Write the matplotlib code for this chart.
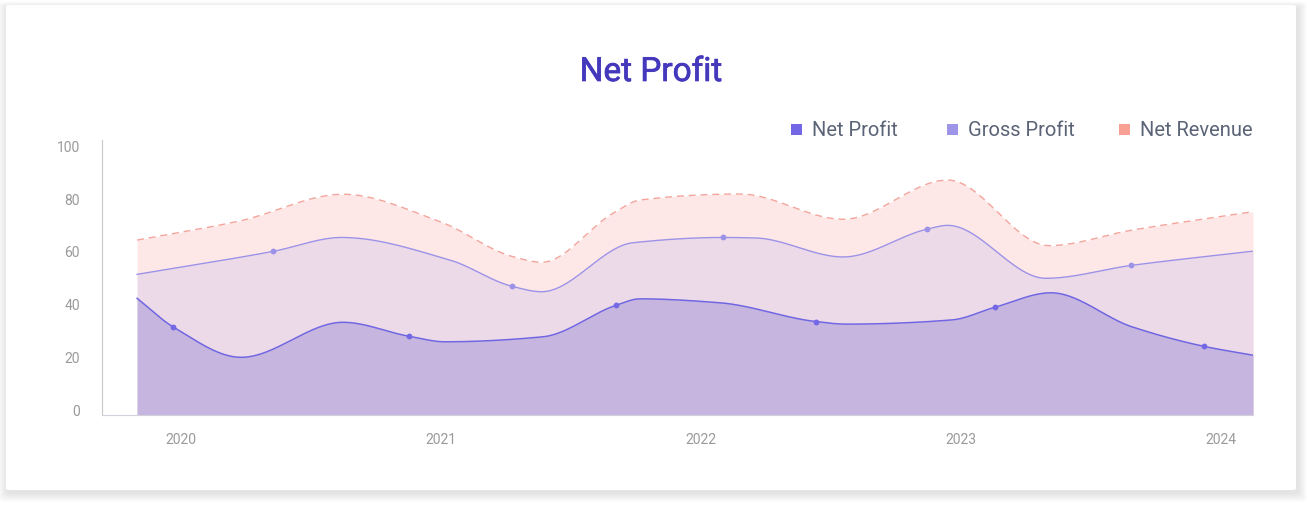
import numpy as np
import matplotlib
matplotlib.use("Agg")
import matplotlib.pyplot as plt
import matplotlib.transforms as mtransforms
import matplotlib.patheffects as pe
from matplotlib.patches import FancyBboxPatch, Rectangle

plt.rcParams["font.family"] = ["Roboto", "DejaVu Sans"]

# knots (decimal year, value)
net_x = [2019.831, 2019.969, 2020.231, 2020.623, 2020.877, 2021.015, 2021.392, 2021.672,
         2021.765, 2022.073, 2022.441, 2022.558, 2022.965, 2023.130, 2023.346, 2023.657,
         2023.933, 2024.123]
net_y = [44.1, 33.3, 21.7, 35.0, 29.7, 27.6, 29.5, 41.4, 43.9, 42.4, 35.3, 34.3, 35.9,
         40.7, 46.2, 33.3, 25.9, 22.5]
net_marks = [2019.969, 2020.877, 2021.672, 2022.441, 2023.130, 2023.933]

gross_x = [2019.831, 2020.353, 2020.618, 2021.035, 2021.272, 2021.387, 2021.738, 2022.083,
           2022.21, 2022.547, 2022.868, 2022.949, 2023.326, 2023.655, 2024.123]
gross_y = [53.2, 61.9, 67.2, 58.6, 48.7, 46.6, 65.2, 67.2, 67.0, 59.8, 70.3, 71.8, 51.7,
           56.6, 62.0]
gross_marks = [2020.353, 2021.272, 2022.083, 2022.868, 2023.655]

rev_x = [2019.831, 2020.227, 2020.623, 2020.996, 2021.277, 2021.387, 2021.662, 2021.765,
         2022.15, 2022.547, 2022.949, 2023.338, 2023.658, 2024.123]
rev_y = [66.2, 73.5, 83.6, 73.2, 59.9, 57.8, 76.4, 81.4, 83.7, 74.1, 89.0, 64.1, 70.0, 77.0]

years = [2020, 2021, 2022, 2023, 2024]
yticks = [0, 20, 40, 60, 80, 100]
labels = ["Net Profit", "Gross Profit", "Net Revenue"]


def smooth(xk, yk, xs):
    # monotone cubic (Fritsch-Carlson) like the chart's smooth curve
    xk = np.asarray(xk, float)
    yk = np.asarray(yk, float)
    h = np.diff(xk)
    d = np.diff(yk) / h
    m = np.zeros_like(yk)
    m[0], m[-1] = d[0], d[-1]
    for i in range(1, len(xk) - 1):
        if d[i - 1] * d[i] <= 0:
            m[i] = 0
        else:
            w1 = 2 * h[i] + h[i - 1]
            w2 = h[i] + 2 * h[i - 1]
            m[i] = (w1 + w2) / (w1 / d[i - 1] + w2 / d[i])
    idx = np.clip(np.searchsorted(xk, xs) - 1, 0, len(xk) - 2)
    t = (xs - xk[idx]) / h[idx]
    h00 = 2 * t**3 - 3 * t**2 + 1
    h10 = t**3 - 2 * t**2 + t
    h01 = -2 * t**3 + 3 * t**2
    h11 = t**3 - t**2
    return (h00 * yk[idx] + h10 * h[idx] * m[idx] + h01 * yk[idx + 1]
            + h11 * h[idx] * m[idx + 1])


W, H = 1310, 505
fig = plt.figure(figsize=(W / 100, H / 100), dpi=100)
fig.patch.set_facecolor("white")

# card with soft shadow (offset down/right)
cx0, cy0, cx1, cy1 = 6, 5, 1296, 490
for k in range(9, 0, -1):
    x0 = cx0 + 1 - k
    x1 = cx1 + 2 + k
    y0 = cy0 + 2 - k * 0.6
    y1 = cy1 + 3 + k
    fig.patches.append(FancyBboxPatch(
        (x0 / W, (H - y1) / H), (x1 - x0) / W, (y1 - y0) / H,
        boxstyle="round,pad=0,rounding_size=0.006", transform=fig.transFigure,
        facecolor="#000000", edgecolor="none", alpha=0.011, zorder=0))
fig.patches.append(FancyBboxPatch(
    (cx0 / W, (H - cy1) / H), (cx1 - cx0) / W, (cy1 - cy0) / H,
    boxstyle="round,pad=0,rounding_size=0.003", transform=fig.transFigure,
    facecolor="white", edgecolor="none", zorder=1))

ax = fig.add_axes([102 / W, (H - 414.5) / H, (1253 - 102) / W, (414.5 - 140) / H])
ax.set_zorder(2)
ax.patch.set_alpha(0)

xs = np.linspace(net_x[0], net_x[-1], 1200)
net_s = smooth(net_x, net_y, xs)
gross_s = smooth(gross_x, gross_y, xs)
rev_s = smooth(rev_x, rev_y, xs)

ax.fill_between(xs, 0, rev_s, color="#FDE8E7", lw=0, zorder=1)
ax.fill_between(xs, 0, gross_s, color="#EDDAE9", lw=0, zorder=2)
ax.fill_between(xs, 0, net_s, color="#C6B6DF", lw=0, zorder=3)

ax.plot(xs, rev_s, color="#F4A49C", lw=1.0, ls=(0, (5, 3.5)), zorder=4)
ax.plot(xs, gross_s, color="#9C92E8", lw=1.0, zorder=4)
ax.plot(xs, net_s, color="#7066E2", lw=1.1, zorder=5)

ax.plot(net_marks, smooth(net_x, net_y, np.array(net_marks)), "o", ms=4.2,
        color="#7468E5", mec="none", zorder=6)
ax.plot(gross_marks, smooth(gross_x, gross_y, np.array(gross_marks)), "o", ms=4.2,
        color="#9C93E8", mec="none", zorder=6)

ax.set_xlim(2019.696, net_x[-1])
ax.set_ylim(0, 104.2)
ax.set_xticks(years)
ax.set_xticklabels([str(y) for y in years])
ax.set_yticks(yticks)
ax.tick_params(length=0, labelsize=10, labelcolor="#9a9a9a")
ax.tick_params(axis="x", pad=13)
ax.tick_params(axis="y", pad=16)
shift = mtransforms.ScaledTranslation(0, 3 / 100, fig.dpi_scale_trans)
for lab in ax.get_yticklabels():
    lab.set_verticalalignment("center")
    lab.set_transform(lab.get_transform() + shift)
ax.spines["top"].set_visible(False)
ax.spines["right"].set_visible(False)
ax.spines["left"].set_color("#c8c8c8")
ax.spines["bottom"].set_color("#d4d0dc")
ax.spines["left"].set_zorder(7)
ax.spines["bottom"].set_zorder(7)

title = fig.text(651 / W, 1 - 72 / H, "Net Profit", ha="center", va="center", fontsize=24,
                 color="#4438BC", fontweight="normal", zorder=3)
title.set_path_effects([pe.withStroke(linewidth=0.5, foreground="#4438BC")])

# legend
leg_colors = ["#7367E6", "#9E95E8", "#F9A094"]
sq_x = [791, 947, 1119]
for lx, c, t in zip(sq_x, leg_colors, labels):
    fig.patches.append(Rectangle((lx / W, 1 - 135 / H), 11 / W, 11 / H,
                                 transform=fig.transFigure, facecolor=c,
                                 edgecolor="none", zorder=3))
    fig.text((lx + 21) / W, 1 - 130 / H, t, ha="left", va="center", fontsize=14.5,
             color="#5B6377", zorder=3)

fig.savefig("out.png", dpi=100)
